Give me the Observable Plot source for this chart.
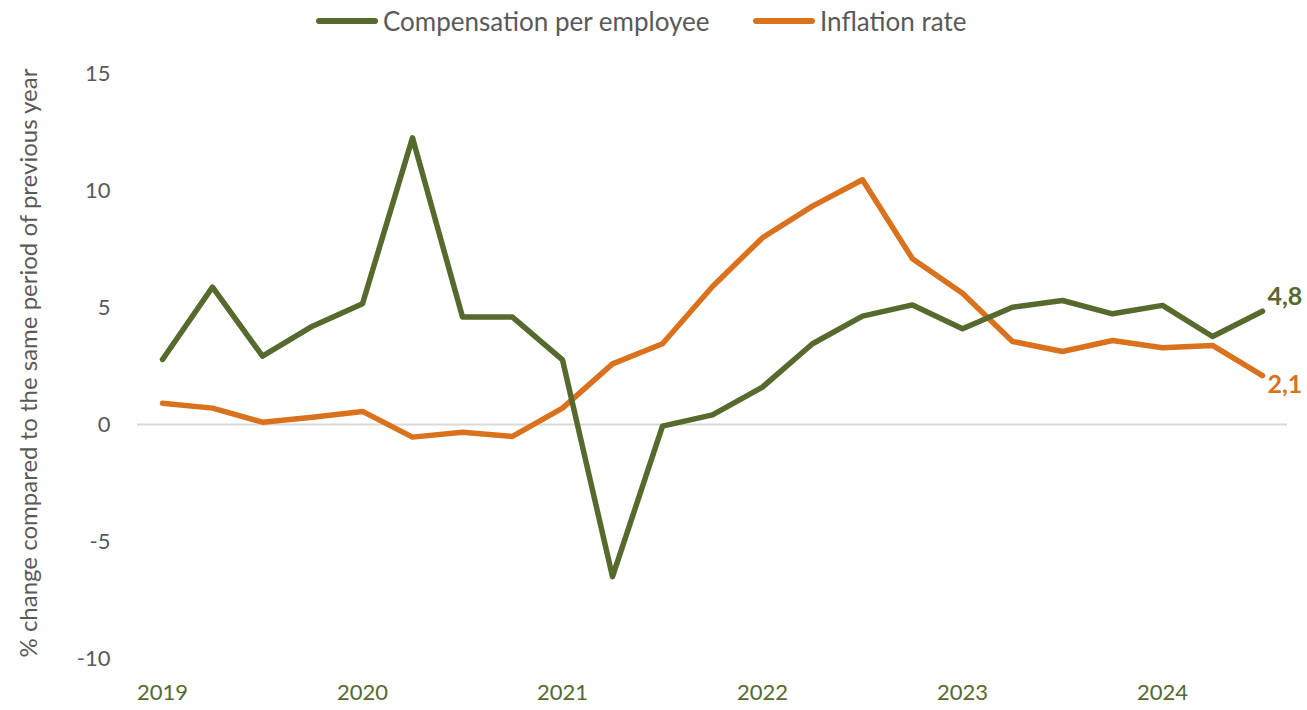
<!DOCTYPE html>
<html>
<head>
<meta charset="utf-8">
<script src="https://cdn.jsdelivr.net/npm/d3@7"></script>
<script src="https://cdn.jsdelivr.net/npm/@observablehq/plot@0.6"></script>
<style>
  html, body { margin: 0; padding: 0; background: #fff; }
  #wrap { position: relative; width: 1307px; height: 710px; font-family: Lato, "Open Sans", sans-serif; }
  #legend { position: absolute; left: 0; top: 4px; width: 1307px; height: 36px; font-size: 26px; color: #595959; white-space: nowrap; }
  .sw { display: inline-block; width: 62px; height: 6px; border-radius: 3px; margin-right: 5px; }
  .item { position: absolute; top: 0; display: flex; align-items: center; height: 34px; }
  #chart { position: absolute; left: 0; top: 0; }
</style>
</head>
<body>
<div id="wrap">
  <div id="chart"></div>
  <div id="legend"></div>
</div>
<script>
// Quarterly periods 2019Q1 .. 2024Q3
const periods = ["2019Q1","2019Q2","2019Q3","2019Q4","2020Q1","2020Q2","2020Q3","2020Q4",
  "2021Q1","2021Q2","2021Q3","2021Q4","2022Q1","2022Q2","2022Q3","2022Q4",
  "2023Q1","2023Q2","2023Q3","2023Q4","2024Q1","2024Q2","2024Q3"];
const yearLabels = ["2019","2020","2021","2022","2023","2024"];
const compensation = [2.78, 5.87, 2.92, 4.2, 5.16, 12.25, 4.59, 4.59, 2.76, -6.5, -0.07, 0.41,
  1.6, 3.45, 4.63, 5.11, 4.09, 5.01, 5.3, 4.73, 5.09, 3.76, 4.84];
const inflation = [0.91, 0.70, 0.1, 0.31, 0.56, -0.54, -0.33, -0.51, 0.70, 2.59, 3.45, 5.9,
  7.98, 9.33, 10.46, 7.08, 5.61, 3.55, 3.12, 3.59, 3.28, 3.38, 2.09];
const seriesNames = ["Compensation per employee", "Inflation rate"];
const endLabels = ["4,8", "2,1"];
const yTicks = [-10, -5, 0, 5, 10, 15];
const yTitle = "% change compared to the same period of previous year";

const colors = {"Compensation per employee": "#556a2c", "Inflation rate": "#d9711d"};

const rows = [];
periods.forEach((p, i) => {
  rows.push({i, period: p, series: seriesNames[0], value: compensation[i]});
  rows.push({i, period: p, series: seriesNames[1], value: inflation[i]});
});
const last = periods.length - 1;
const ends = [
  {i: last, value: compensation[last], series: seriesNames[0], label: endLabels[0]},
  {i: last, value: inflation[last], series: seriesNames[1], label: endLabels[1]}
];
const yearTickIdx = periods.map((p, i) => p.endsWith("Q1") ? i : null).filter(d => d !== null);

const plot = Plot.plot({
  width: 1307,
  height: 710,
  marginTop: 73,
  marginBottom: 52,
  marginLeft: 137,
  marginRight: 20,
  style: {fontFamily: "Lato, 'Open Sans', sans-serif", background: "transparent"},
  x: {type: "linear", domain: [-0.5, periods.length - 0.5]},
  y: {domain: [-10, 15]},
  marks: [
    Plot.ruleY([0], {stroke: "#d9d9d9", strokeWidth: 2}),
    Plot.axisY({ticks: yTicks, tickSize: 0, tickPadding: 27, fontSize: 22, fill: "#595959", label: null,
      tickFormat: d => String(d)}),
    Plot.axisX({ticks: yearTickIdx, tickSize: 0, tickPadding: 26, fontSize: 22, fill: "#556a2c",
      tickFormat: i => yearLabels[yearTickIdx.indexOf(i)], label: null}),
    Plot.text([yTitle], {text: d => d, frameAnchor: "left", textAnchor: "middle", dx: -108, dy: -3, rotate: -90,
      fontSize: 24, fill: "#595959"}),
    Plot.line(rows.filter(d => d.series === seriesNames[1]), {x: "i", y: "value", stroke: colors[seriesNames[1]],
      strokeWidth: 5.5, strokeLinecap: "round", strokeLinejoin: "round"}),
    Plot.line(rows.filter(d => d.series === seriesNames[0]), {x: "i", y: "value", stroke: colors[seriesNames[0]],
      strokeWidth: 5.5, strokeLinecap: "round", strokeLinejoin: "round"}),
    Plot.text(ends.slice(0,1), {x: "i", y: "value", text: "label", dx: 5, dy: -14, textAnchor: "start",
      fontSize: 25, fontWeight: "bold", fill: colors[seriesNames[0]]}),
    Plot.text(ends.slice(1), {x: "i", y: "value", text: "label", dx: 5, dy: 9, textAnchor: "start",
      fontSize: 25, fontWeight: "bold", fill: colors[seriesNames[1]]})
  ]
});
document.getElementById("chart").appendChild(plot);

const legend = document.getElementById("legend");
const legendLeft = [316, 753];
seriesNames.forEach((name, k) => {
  const item = document.createElement("div");
  item.className = "item";
  item.style.left = legendLeft[k] + "px";
  const sw = document.createElement("span");
  sw.className = "sw";
  sw.style.background = colors[name];
  item.appendChild(sw);
  const t = document.createElement("span");
  t.textContent = name;
  item.appendChild(t);
  legend.appendChild(item);
});
</script>
</body>
</html>
